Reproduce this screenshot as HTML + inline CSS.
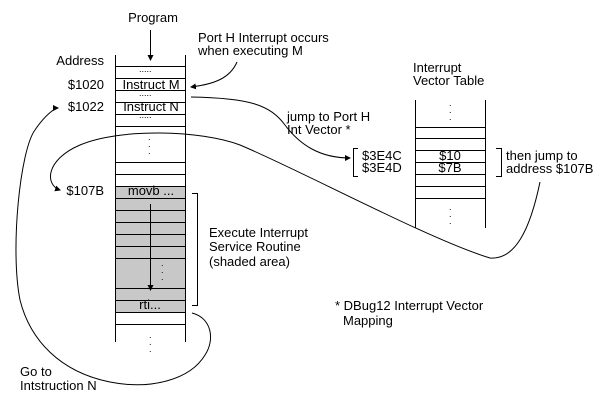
<!DOCTYPE html>
<html><head><style>
html,body{margin:0;padding:0;background:#fff}
svg{display:block}
text{font-family:"Liberation Sans",Arial,sans-serif;font-size:13px;fill:#000}
</style></head><body>
<svg width="606" height="408" viewBox="0 0 606 408" xmlns="http://www.w3.org/2000/svg">
<defs><marker id="a" markerWidth="6" markerHeight="6" refX="5" refY="3" orient="auto" markerUnits="userSpaceOnUse"><path d="M0,0 L6,3 L0,6z" fill="#000"/></marker></defs>
<rect x="115" y="186" width="71" height="126" fill="#c8c8c8"/>
<g stroke="#000" stroke-width="1" fill="none">
<line x1="115.5" y1="55" x2="115.5" y2="342"/>
<line x1="185.5" y1="55" x2="185.5" y2="342"/>
<path d="M115,66.5H186M115,78.5H186M115,90.5H186M115,102.5H186M115,114.5H186M115,126.5H186M115,162.5H186M115,174.5H186M115,186.5H186M115,198.5H186M115,210.5H186M115,222.5H186M115,234.5H186M115,246.5H186M115,258.5H186M115,288.5H186M115,300.5H186M115,312.5H186M115,324.5H186"/>
<line x1="150.5" y1="30" x2="150.5" y2="60" marker-end="url(#a)"/>
<line x1="150.5" y1="204" x2="150.5" y2="290" marker-end="url(#a)"/>
<path d="M192,193.5H197.5V305.5H192"/>
<line x1="415.5" y1="100" x2="415.5" y2="228"/>
<line x1="485.5" y1="100" x2="485.5" y2="228"/>
<path d="M415,127.5H486M415,138.5H486M415,150.5H486M415,162.5H486M415,174.5H486M415,186.5H486M415,198.5H486"/>
<path d="M358,148.5H353.5V176.5H358"/>
<path d="M496,148.5H501.5V176.5H496"/>
<path d="M237,62 C230,78 215,84 191,87" marker-end="url(#a)"/>
<path d="M191,97 C250,98 270,105 285,125 C300,145 320,158 350,158" marker-end="url(#a)"/>
<path d="M540,182 C530,230 515,260 490,258 C430,240 300,170 240,145 C200,130 120,128 80,145 C45,160 45,185 60,190" marker-end="url(#a)"/>
<path d="M192,313 C212,318 215,340 205,355 C190,380 150,390 110,382 C60,372 30,340 20,300 C10,250 20,150 35,130 C45,115 55,108 58,108" marker-end="url(#a)"/>
</g>
<g fill="#000">
<text x="139" y="72" style="font-size:9px">.....</text>
<text x="139" y="96" style="font-size:9px">.....</text>
<text x="139" y="118" style="font-size:9px">.....</text>
<text x="148" y="140" style="font-size:9px">.</text><text x="148" y="147" style="font-size:9px">.</text><text x="148" y="154" style="font-size:9px">.</text>
<text x="161" y="266" style="font-size:9px">.</text><text x="161" y="273" style="font-size:9px">.</text><text x="161" y="280" style="font-size:9px">.</text>
<text x="149" y="338" style="font-size:9px">.</text><text x="149" y="345" style="font-size:9px">.</text><text x="149" y="352" style="font-size:9px">.</text>
<text x="449" y="106" style="font-size:9px">.</text><text x="449" y="113" style="font-size:9px">.</text><text x="449" y="120" style="font-size:9px">.</text>
<text x="449" y="210" style="font-size:9px">.</text><text x="449" y="217" style="font-size:9px">.</text><text x="449" y="224" style="font-size:9px">.</text>
</g>
<text x="153" y="22" text-anchor="middle">Program</text>
<text x="104" y="65" text-anchor="end">Address</text>
<text x="104" y="89" text-anchor="end">$1020</text>
<text x="104" y="111" text-anchor="end">$1022</text>
<text x="104" y="195" text-anchor="end">$107B</text>
<text x="151" y="89" text-anchor="middle">Instruct M</text>
<text x="151" y="111" text-anchor="middle">Instruct N</text>
<text x="151" y="195" text-anchor="middle">movb ...</text>
<text x="150" y="309" text-anchor="middle">rti...</text>
<text x="198" y="42">Port H Interrupt occurs</text>
<text x="198" y="55">when executing M</text>
<text x="287" y="121">jump to Port H</text>
<text x="287" y="134">Int Vector *</text>
<text x="413" y="72">Interrupt</text>
<text x="413" y="85">Vector Table</text>
<text x="362" y="160">$3E4C</text>
<text x="362" y="172">$3E4D</text>
<text x="450" y="160" text-anchor="middle">$10</text>
<text x="450" y="172" text-anchor="middle">$7B</text>
<text x="506" y="160">then jump to</text>
<text x="506" y="173">address $107B</text>
<text x="209" y="237">Execute Interrupt</text>
<text x="209" y="251">Service Routine</text>
<text x="209" y="266">(shaded area)</text>
<text x="335" y="310">* DBug12 Interrupt Vector</text>
<text x="343" y="325">Mapping</text>
<text x="20" y="376">Go to</text>
<text x="20" y="390">Intstruction N</text>
</svg>
</body></html>
